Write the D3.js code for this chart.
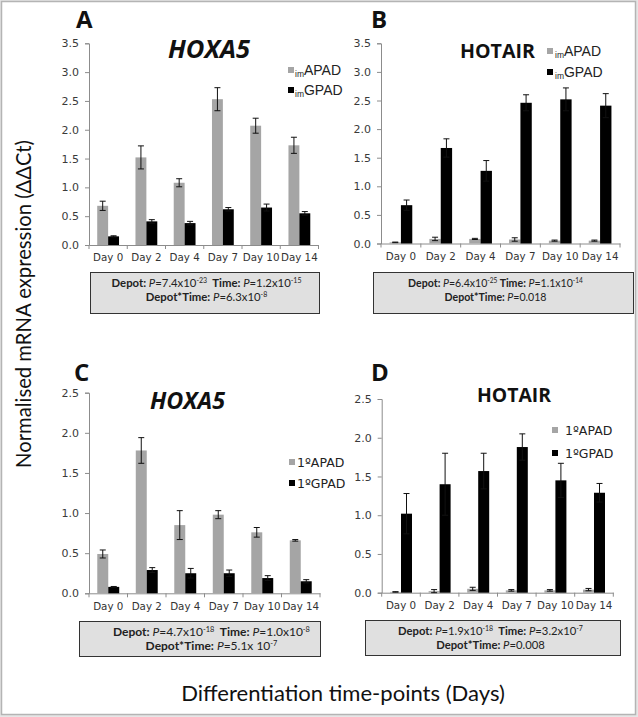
<!DOCTYPE html>
<html><head><meta charset="utf-8">
<script src="https://cdn.jsdelivr.net/npm/d3@7"></script>
<style>body{margin:0;background:#fff}svg{display:block}text{white-space:pre}</style>
</head><body>
<script>
// ---------- DATA ----------
const days = ["Day 0","Day 2","Day 4","Day 7","Day 10","Day 14"];
const ticksAB = [0,0.5,1.0,1.5,2.0,2.5,3.0,3.5];
const ticksCD = [0,0.5,1.0,1.5,2.0,2.5];

// Panel A: HOXA5, imAPAD / imGPAD
const aAPAD    = [0.68,1.52,1.08,2.53,2.07,1.73];
const aAPADErr = [0.08,0.20,0.07,0.20,0.13,0.14];
const aGPAD    = [0.15,0.41,0.38,0.62,0.65,0.55];
const aGPADErr = [0.01,0.03,0.03,0.03,0.06,0.03];
// Panel B: HOTAIR, imAPAD / imGPAD
const bAPAD    = [0.02,0.08,0.08,0.07,0.05,0.05];
const bAPADErr = [0.005,0.03,0.01,0.03,0.01,0.01];
const bGPAD    = [0.67,1.67,1.27,2.46,2.52,2.41];
const bGPADErr = [0.09,0.16,0.18,0.14,0.20,0.21];
// Panel C: HOXA5, 1ºAPAD / 1ºGPAD
const cAPAD    = [0.49,1.78,0.85,0.98,0.76,0.66];
const cAPADErr = [0.05,0.16,0.18,0.05,0.06,0.01];
const cGPAD    = [0.08,0.29,0.25,0.25,0.19,0.15];
const cGPADErr = [0.005,0.03,0.06,0.04,0.03,0.02];
// Panel D: HOTAIR, 1ºAPAD / 1ºGPAD
const dAPAD    = [0.01,0.02,0.05,0.03,0.03,0.04];
const dAPADErr = [0.003,0.02,0.02,0.01,0.01,0.015];
const dGPAD    = [1.02,1.40,1.57,1.88,1.45,1.29];
const dGPADErr = [0.26,0.40,0.23,0.17,0.22,0.12];

const legendIm = ["APAD","GPAD"];
const legend1 = ["1ºAPAD","1ºGPAD"];

// stats: [value, exponent] pairs
const statsA = {depot:["7.4x10","-23"], time:["1.2x10","-15"], inter:["6.3x10","-8"]};
const statsB = {depot:["6.4x10","-25"], time:["1.1x10","-14"], inter:["0.018",""]};
const statsC = {depot:["4.7x10","-18"], time:["1.0x10","-8"], inter:["5.1x 10","-7"]};
const statsD = {depot:["1.9x10","-18"], time:["3.2x10","-7"], inter:["0.008",""]};

const yLabel = "Normalised mRNA expression (ΔΔCt)";
const xLabel = "Differentiation time-points (Days)";

// ---------- DRAW ----------
const W = 638, H = 717;
const svg = d3.select("body").append("svg").attr("width",W).attr("height",H);
svg.append("rect").attr("width",W).attr("height",H).attr("fill","#e6e6e6");
svg.append("rect").attr("x",1.5).attr("y",1.5).attr("width",634).attr("height",713)
  .attr("fill","#fff").attr("stroke","#b4b4b4").attr("stroke-width",1.5);

const GRAY = "#a5a5a5", AX = "#8c8c8c";
const tickFont = "'DejaVu Sans', Verdana, sans-serif";
const calibri = "Lato, 'Open Sans', sans-serif";
const headFont = "'Open Sans', sans-serif";

function fitSize(t, target, base){
  const L = t.node().getComputedTextLength();
  t.attr("font-size", (base*target/L).toFixed(2));
}

function panel(cfg){
  const g = svg.append("g");
  const x = d3.scaleBand().domain(days).range([cfg.x0, cfg.x1]);
  const y = d3.scaleLinear().domain([0, cfg.ymax]).range([cfg.y0, cfg.yTop]);
  // y axis
  const ya = g.append("g").attr("transform",`translate(${cfg.x0},0)`)
    .call(d3.axisLeft(y).tickValues(cfg.ticks).tickFormat(d3.format(".1f")).tickSize(4).tickPadding(6));
  ya.select(".domain").attr("stroke",AX);
  ya.selectAll(".tick line").attr("stroke",AX);
  ya.selectAll("text").attr("font-family",tickFont).attr("font-size",11).attr("fill","#3a3a3a");
  // x axis
  const xa = g.append("g").attr("transform",`translate(0,${cfg.y0})`)
    .call(d3.axisBottom(x).tickSize(0).tickPadding(9));
  xa.select(".domain").attr("stroke",AX);
  xa.selectAll("text").attr("font-family",tickFont).attr("font-size",10.3).attr("fill","#333");
  // band boundary ticks
  const bounds = days.map(d=>x(d)).concat([x(days[days.length-1])+x.bandwidth()]);
  g.selectAll(".bt").data(bounds).join("line")
    .attr("x1",d=>d).attr("x2",d=>d).attr("y1",cfg.y0).attr("y2",cfg.y0+4).attr("stroke",AX);
  const bw = x.bandwidth()*0.285;
  const series = [
    {vals:cfg.s1, err:cfg.e1, color:GRAY, off:-bw},
    {vals:cfg.s2, err:cfg.e2, color:"#000", off:0}
  ];
  series.forEach(s=>{
    const cx = d=>x(days[d])+x.bandwidth()/2+s.off;
    g.selectAll(null).data(d3.range(days.length)).join("rect")
      .attr("x",i=>cx(i)).attr("width",bw)
      .attr("y",i=>y(s.vals[i])).attr("height",i=>cfg.y0-y(s.vals[i]))
      .attr("fill",s.color);
    const eg = g.append("g").attr("stroke","#111").attr("stroke-width",1);
    d3.range(days.length).forEach(i=>{
      const xm = cx(i)+bw/2;
      const hi = y(s.vals[i]+s.err[i]), lo = y(Math.max(0,s.vals[i]-s.err[i]));
      eg.append("line").attr("x1",xm).attr("x2",xm).attr("y1",hi).attr("y2",lo);
      eg.append("line").attr("x1",xm-3).attr("x2",xm+3).attr("y1",hi).attr("y2",hi);
      eg.append("line").attr("x1",xm-3).attr("x2",xm+3).attr("y1",lo).attr("y2",lo);
    });
  });
  // panel letter
  g.append("text").attr("x",cfg.lx).attr("y",cfg.ly).text(cfg.letter)
    .attr("font-family",headFont).attr("font-weight","bold").attr("font-size",24).attr("fill","#111");
  // title
  const tt = g.append("text").attr("x",cfg.tx).attr("y",cfg.ty).text(cfg.title)
    .attr("font-family",headFont).attr("font-weight","bold").attr("font-style",cfg.italic?"italic":"normal")
    .attr("font-size",20).attr("fill","#111");
  fitSize(tt, cfg.tw, 20);
  // legend
  cfg.legend.forEach((L,i)=>{
    const ly = cfg.legY[i];
    g.append("rect").attr("x",cfg.legX).attr("y",ly-3).attr("width",6).attr("height",6)
      .attr("fill",i===0?GRAY:"#000");
    const t = g.append("text").attr("x",cfg.legTX).attr("y",ly+4.5).attr("fill","#222");
    if(cfg.sub){
      t.attr("font-family","'Liberation Sans', Arial, sans-serif");
      t.append("tspan").text("im").attr("font-size",8.5).attr("dy",2);
      t.append("tspan").text(L).attr("font-size",14).attr("dy",-2);
    } else {
      t.attr("font-family",tickFont).attr("font-size",cfg.legFS).text(L);
    }
  });
  // stat box
  const b = cfg.box;
  g.append("rect").attr("x",b[0]).attr("y",b[1]).attr("width",b[2]-b[0]).attr("height",b[3]-b[1])
    .attr("fill","#e0e0e0").attr("stroke","#333").attr("stroke-width",1);
  const cxBox = cfg.boxCx;
  function statLine(yy, parts, fs){
    const t = g.append("text").attr("x",cxBox).attr("y",yy).attr("text-anchor","middle")
      .attr("font-family",calibri).attr("font-size",fs).attr("fill","#222");
    parts.forEach(p=>{
      const ts = t.append("tspan").text(p.t);
      if(p.b) ts.attr("font-weight","bold");
      if(p.i) ts.attr("font-style","italic");
      if(p.sup){ ts.attr("font-size",fs*0.62).attr("dy",-4); }
      if(p.after){ ts.attr("dy",4); }
    });
    return t;
  }
  const st = cfg.stats;
  const l1 = [{t:"Depot: ",b:1},{t:"P",i:1},{t:"="+st.depot[0]}];
  if(st.depot[1]) l1.push({t:st.depot[1],sup:1});
  l1.push({t:cfg.gap+"Time: ",b:1,after:!!st.depot[1]},{t:"P",i:1},{t:"="+st.time[0]});
  if(st.time[1]) l1.push({t:st.time[1],sup:1});
  const t1 = statLine(b[1]+14,l1,10);
  const fs = 10*cfg.lw/t1.node().getComputedTextLength();
  t1.remove();
  statLine(b[1]+14,l1,fs);
  const l2 = [{t:"Depot*Time: ",b:1},{t:"P",i:1},{t:"="+st.inter[0]}];
  if(st.inter[1]) l2.push({t:st.inter[1],sup:1});
  statLine(b[1]+28,l2,fs);
}

panel({letter:"A", lx:76, ly:28, title:"HOXA5", italic:true, tx:168, ty:58, tw:82,
  x0:89, x1:318.5, y0:245, yTop:43.3, ymax:3.5, ticks:ticksAB,
  s1:aAPAD, e1:aAPADErr, s2:aGPAD, e2:aGPADErr,
  legend:legendIm, sub:true, legX:288, legTX:295, legY:[70,90],
  box:[90.5,272.5,319.5,313.5], boxCx:206.5, lw:190, stats:statsA, gap:"  "});
panel({letter:"B", lx:371, ly:28, title:"HOTAIR", italic:false, tx:460, ty:58, tw:75,
  x0:381, x1:620, y0:243.5, yTop:43.3, ymax:3.5, ticks:ticksAB,
  s1:bAPAD, e1:bAPADErr, s2:bGPAD, e2:bGPADErr,
  legend:legendIm, sub:true, legX:547, legTX:555, legY:[51,72],
  box:[373.5,272.5,633.5,313.5], boxCx:495.5, lw:175, stats:statsB, gap:" "});
panel({letter:"C", lx:74, ly:381, title:"HOXA5", italic:true, tx:150, ty:409, tw:75,
  x0:89, x1:320, y0:593.3, yTop:392.7, ymax:2.5, ticks:ticksCD,
  s1:cAPAD, e1:cAPADErr, s2:cGPAD, e2:cGPADErr,
  legend:legend1, sub:false, legFS:12.5, legX:289, legTX:297, legY:[462,483],
  box:[79.5,621.5,320.5,656.5], boxCx:211.5, lw:197, stats:statsC, gap:"  "});
panel({letter:"D", lx:371, ly:381, title:"HOTAIR", italic:false, tx:477, ty:402, tw:74,
  x0:381.7, x1:613.3, y0:592.7, yTop:399, ymax:2.5, ticks:ticksCD,
  s1:dAPAD, e1:dAPADErr, s2:dGPAD, e2:dGPADErr,
  legend:legend1, sub:false, legFS:12.5, legX:552, legTX:565, legY:[430,453],
  box:[365.5,620.5,620.5,655.5], boxCx:490.5, lw:185, stats:statsD, gap:"  "});

// axis titles
const yl = svg.append("text").attr("transform","translate(31,304) rotate(-90)")
  .attr("text-anchor","middle").attr("font-family",calibri).attr("font-size",17)
  .attr("fill","#111").text(yLabel);
const xl = svg.append("text").attr("x",343).attr("y",701)
  .attr("text-anchor","middle").attr("font-family",calibri).attr("font-size",17)
  .attr("fill","#111").text(xLabel);
// fit lengths to reference extents
[[yl,328],[xl,324]].forEach(([t,len])=>{
  const L = t.node().getComputedTextLength();
  t.attr("font-size",17*len/L);
});
</script>
</body></html>
